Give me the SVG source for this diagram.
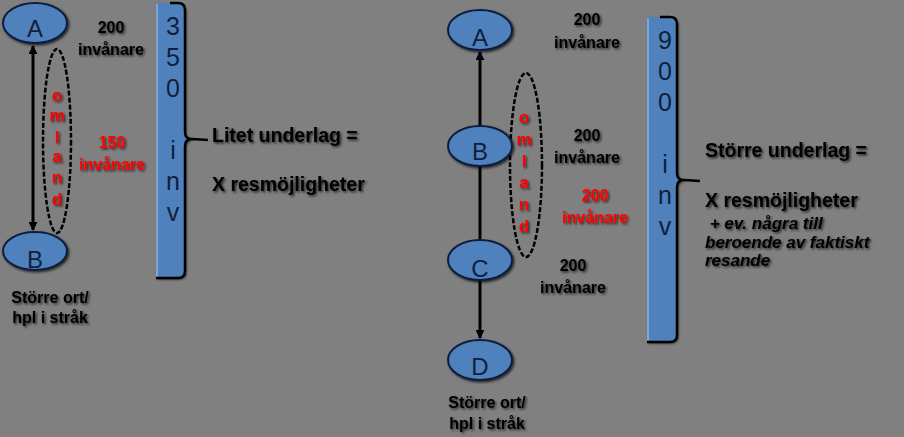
<svg xmlns="http://www.w3.org/2000/svg" width="904" height="437" viewBox="0 0 904 437">
<style>
.bg{fill:#808080}
.node{fill:#4f81bd;stroke:#0f1f3d;stroke-width:2}
.nl{font-family:"Liberation Sans",Arial,sans-serif;font-size:24px;fill:#0f1f3d;text-anchor:middle}
.lbl{font-family:"Liberation Sans",Arial,sans-serif;font-weight:bold;font-size:16px;fill:#000;text-anchor:middle}
.red{fill:#ff0000}
.om{font-family:"Liberation Sans",Arial,sans-serif;font-weight:bold;font-size:17px;fill:#ff0000;text-anchor:middle}
.big{font-family:"Liberation Sans",Arial,sans-serif;font-weight:bold;font-size:19.5px;fill:#000}
.it{font-family:"Liberation Sans",Arial,sans-serif;font-weight:bold;font-style:italic;font-size:17px;fill:#000}
.bar{fill:#4f81bd}
.brace{fill:none;stroke:#000;stroke-width:2.5}
.bt{font-family:"Liberation Sans",Arial,sans-serif;font-size:25px;fill:#0f1f3d;text-anchor:middle}
.dash{fill:none;stroke:#000;stroke-width:2.5;stroke-dasharray:5 2}
.conn{stroke:#000;stroke-width:3;fill:none}
</style>
<defs>
<filter id="sh" x="-20%" y="-20%" width="140%" height="140%">
<feDropShadow dx="1.5" dy="1.5" stdDeviation="0.9" flood-color="#000" flood-opacity="0.7"/>
</filter>
<marker id="ah" viewBox="0 0 10 10" refX="9" refY="5" markerWidth="3" markerHeight="3" orient="auto-start-reverse" markerUnits="strokeWidth">
<path d="M0,0 L10,5 L0,10 z" fill="#000"/>
</marker>
</defs>
<rect class="bg" x="0" y="0" width="904" height="437"/>

<g id="connectors">
<line class="conn" x1="33" y1="46" x2="33" y2="230" marker-start="url(#ah)" marker-end="url(#ah)"/>
<line class="conn" x1="480" y1="52" x2="480" y2="338" marker-start="url(#ah)" marker-end="url(#ah)"/>
</g>

<g id="omland-left">
<ellipse class="dash" cx="57" cy="141" rx="14" ry="92"/>
<g filter="url(#sh)">
<text class="om" x="57" y="101">o</text>
<text class="om" x="57" y="121">m</text>
<text class="om" x="57" y="143">l</text>
<text class="om" x="57" y="162">a</text>
<text class="om" x="57" y="183">n</text>
<text class="om" x="57" y="205">d</text>
</g>
</g>

<g id="omland-right">
<ellipse class="dash" cx="526" cy="165" rx="16" ry="92"/>
<g filter="url(#sh)">
<text class="om" x="524" y="123">o</text>
<text class="om" x="524" y="145">m</text>
<text class="om" x="524" y="167">l</text>
<text class="om" x="524" y="188">a</text>
<text class="om" x="524" y="210">n</text>
<text class="om" x="524" y="232">d</text>
</g>
</g>

<g id="left-A">
<ellipse class="node" cx="35" cy="23" rx="32" ry="20" filter="url(#sh)"/>
<text class="nl" x="35" y="37">A</text>
</g>
<g id="left-B">
<ellipse class="node" cx="35" cy="251" rx="32" ry="19" filter="url(#sh)"/>
<text class="nl" x="35" y="268">B</text>
</g>
<g id="right-A">
<ellipse class="node" cx="480" cy="30" rx="32" ry="20" filter="url(#sh)"/>
<text class="nl" x="480" y="46">A</text>
</g>
<g id="right-B">
<ellipse class="node" cx="480" cy="146" rx="32" ry="20" filter="url(#sh)"/>
<text class="nl" x="480" y="160">B</text>
</g>
<g id="right-C">
<ellipse class="node" cx="480" cy="260" rx="32" ry="20" filter="url(#sh)"/>
<text class="nl" x="480" y="277">C</text>
</g>
<g id="right-D">
<ellipse class="node" cx="480" cy="360" rx="32" ry="20" filter="url(#sh)"/>
<text class="nl" x="480" y="375">D</text>
</g>

<g id="labels-left" filter="url(#sh)">
<text class="lbl" x="111" y="33">200</text>
<text class="lbl" x="111" y="55">invånare</text>
<text class="lbl red" x="112" y="148">150</text>
<text class="lbl red" x="112" y="170">invånare</text>
<text class="lbl" x="50" y="303">Större ort/</text>
<text class="lbl" x="50" y="323">hpl i stråk</text>
</g>

<g id="labels-right" filter="url(#sh)">
<text class="lbl" x="587" y="25">200</text>
<text class="lbl" x="587" y="48">invånare</text>
<text class="lbl" x="587" y="141">200</text>
<text class="lbl" x="587" y="163">invånare</text>
<text class="lbl red" x="595" y="201">200</text>
<text class="lbl red" x="595" y="223">invånare</text>
<text class="lbl" x="573" y="271">200</text>
<text class="lbl" x="573" y="293">invånare</text>
<text class="lbl" x="487" y="408">Större ort/</text>
<text class="lbl" x="487" y="429">hpl i stråk</text>
</g>

<g id="bar-350">
<path class="bar" d="M156,3 L178,3 Q185,3 185,10 L185,132 Q185,139 192,139 Q185,139 185,146 L185,271 Q185,278 178,278 L156,278 Z" filter="url(#sh)"/>
<line x1="157" y1="4" x2="157" y2="277" stroke="#8eb4e3" stroke-width="1.5"/>
<path class="brace" d="M170,3 L178,3 Q185,3 185,10 L185,132 Q185,139 192,139 L208,140 M192,139 Q185,139 185,146 L185,271 Q185,278 178,278 L156,278"/>
<text class="bt" x="173" y="35">3</text>
<text class="bt" x="173" y="66">5</text>
<text class="bt" x="173" y="97">0</text>
<text class="bt" x="173" y="159">i</text>
<text class="bt" x="173" y="190">n</text>
<text class="bt" x="173" y="221">v</text>
</g>

<g id="bar-900">
<path class="bar" d="M647,17 L670,17 Q677,17 677,24 L677,173 Q677,180 684,180 Q677,180 677,187 L677,335 Q677,342 670,342 L647,342 Z" filter="url(#sh)"/>
<line x1="648" y1="18" x2="648" y2="341" stroke="#8eb4e3" stroke-width="1.5"/>
<path class="brace" d="M660,17 L670,17 Q677,17 677,24 L677,173 Q677,180 684,180 L700,181 M684,180 Q677,180 677,187 L677,335 Q677,342 670,342 L647,342"/>
<text class="bt" x="665" y="49">9</text>
<text class="bt" x="665" y="80">0</text>
<text class="bt" x="665" y="111">0</text>
<text class="bt" x="665" y="173">i</text>
<text class="bt" x="665" y="204">n</text>
<text class="bt" x="665" y="235">v</text>
</g>

<g id="text-left" filter="url(#sh)">
<text class="big" x="212" y="142">Litet underlag =</text>
<text class="big" x="212" y="191">X resmöjligheter</text>
</g>

<g id="text-right" filter="url(#sh)">
<text class="big" x="705" y="157">Större underlag =</text>
<text class="big" x="705" y="207">X resmöjligheter</text>
<text class="it" x="705" y="229" xml:space="preserve"> + ev. några till</text>
<text class="it" x="705" y="248">beroende av faktiskt</text>
<text class="it" x="705" y="266">resande</text>
</g>
</svg>
